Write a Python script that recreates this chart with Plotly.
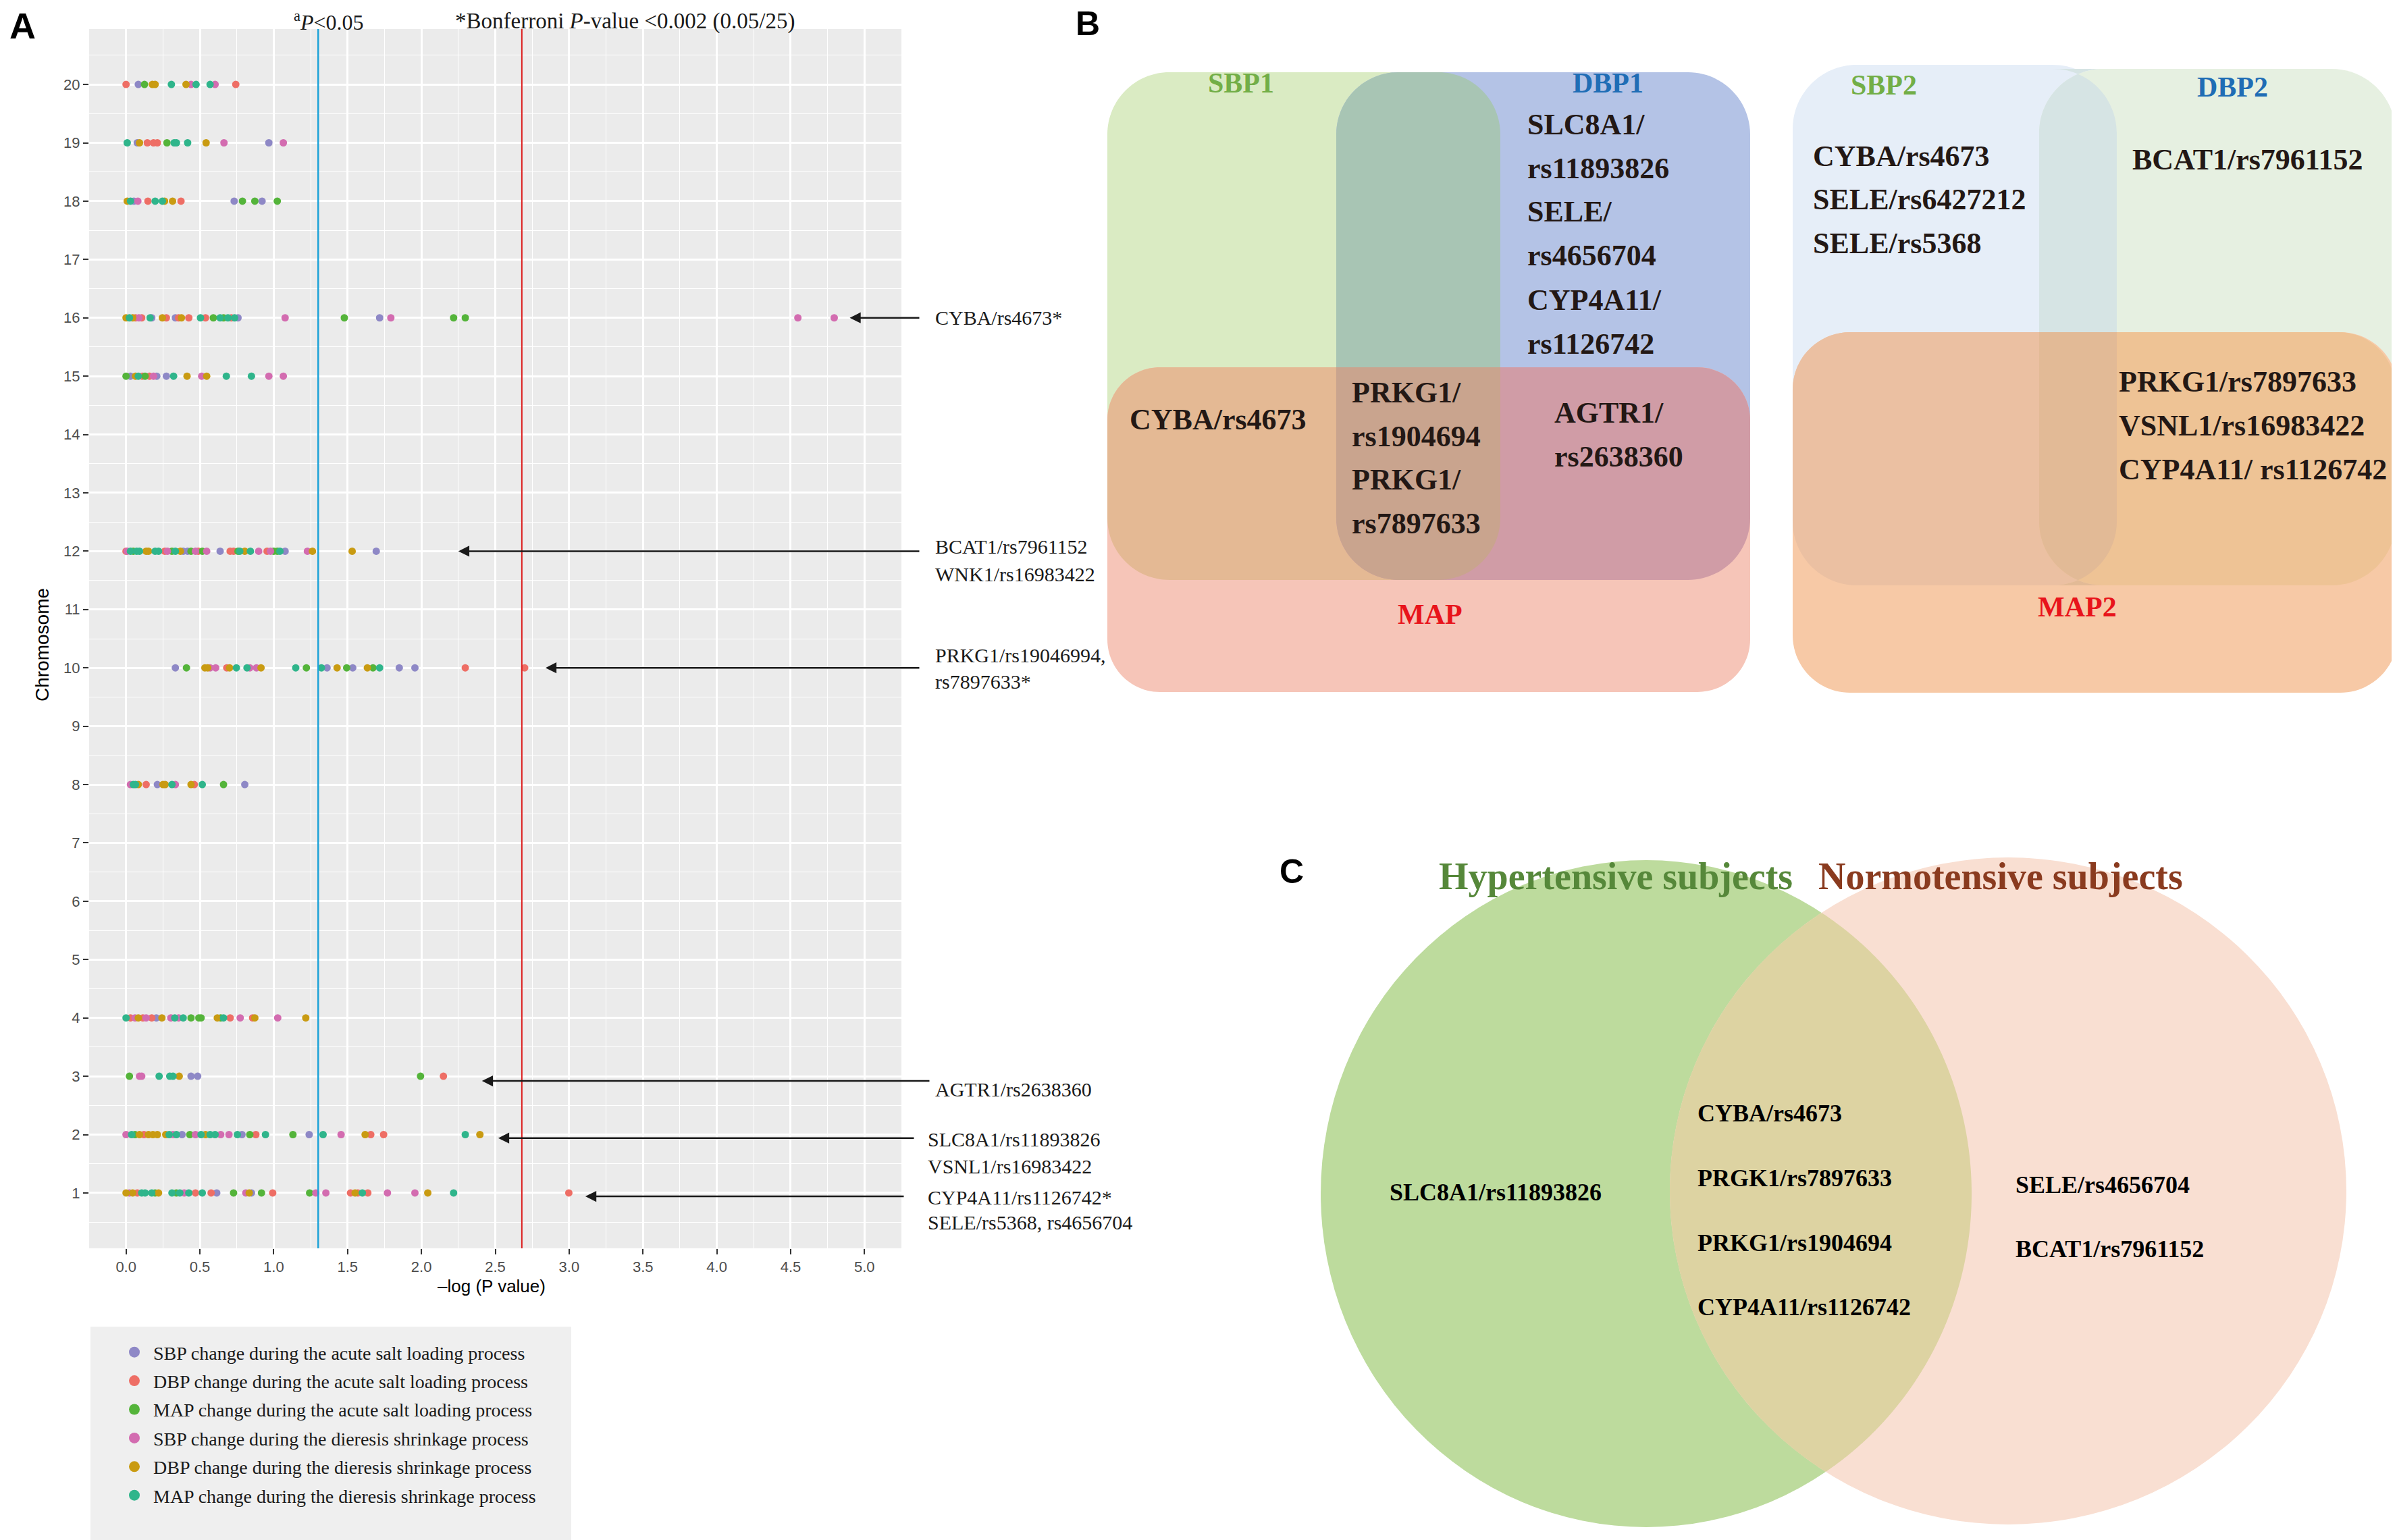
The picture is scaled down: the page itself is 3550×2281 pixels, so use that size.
import numpy as np
import plotly.graph_objects as go

W, H = 3550, 2281

# ---------------- Panel A data ----------------
series_names = [
    "SBP change during the acute salt loading process",
    "DBP change during the acute salt loading process",
    "MAP change during the acute salt loading process",
    "SBP change during the dieresis shrinkage process",
    "DBP change during the dieresis shrinkage process",
    "MAP change during the dieresis shrinkage process",
]
series_codes = ["P", "S", "G", "K", "Y", "T"]
series_colors = ["#8E88C6", "#EE6E65", "#54B43A", "#D36CB0", "#C99B12", "#2FB58B"]

chromosomes = [20, 19, 18, 16, 15, 12, 10, 8, 4, 3, 2, 1]

chr20_x = [0.0, 0.083, 0.125, 0.178, 0.197, 0.307, 0.406, 0.44, 0.474, 0.569, 0.603, 0.743]
chr20_s = "SPGYYTYKTTKS"
chr19_x = [0.008, 0.076, 0.091, 0.144, 0.186, 0.212, 0.277, 0.326, 0.341, 0.417, 0.542, 0.663, 0.967, 1.065]
chr19_s = "TPYSSSGTTTYKPK"
chr18_x = [0.008, 0.03, 0.053, 0.08, 0.148, 0.197, 0.246, 0.261, 0.315, 0.372, 0.732, 0.788, 0.872, 0.921, 1.024]
chr18_s = "YTPKSTTYYSPGGPG"
chr16_x = [0.0, 0.023, 0.045, 0.064, 0.087, 0.106, 0.163, 0.174, 0.246, 0.273, 0.334, 0.356, 0.375, 0.425,
           0.504, 0.538, 0.591, 0.637, 0.66, 0.690, 0.713, 0.735, 0.758, 1.077, 1.478, 1.717, 1.793, 2.218,
           2.297, 4.549, 4.795]
chr16_s = "YTYSKSTPYSPSYSTSGTGTSTPKGPKGGKK"
chr15_x = [0.0, 0.03, 0.064, 0.083, 0.11, 0.129, 0.159, 0.186, 0.208, 0.273, 0.322, 0.413, 0.512, 0.546,
           0.679, 0.849, 0.967, 1.065]
chr15_s = "GPYTSGSKPPTYKYTTKK"
chr12_x = [0.0, 0.008, 0.03, 0.049, 0.072, 0.091, 0.136, 0.152, 0.197, 0.22, 0.262, 0.28, 0.311, 0.334,
           0.368, 0.387, 0.417, 0.44, 0.47, 0.489, 0.516, 0.546, 0.637, 0.705, 0.728, 0.758, 0.77, 0.804,
           0.842, 0.898, 0.955, 0.978, 1.0, 1.024, 1.042, 1.077, 1.228, 1.262, 1.531, 1.694]
chr12_s = "SKTGTTYYTTSKGTYPPGKSGKPSSGTYTKSKGGTPKYYP"
chr10_x = [0.334, 0.409, 0.534, 0.553, 0.569, 0.607, 0.682, 0.701, 0.747, 0.819, 0.838, 0.883, 0.914,
           1.149, 1.221, 1.323, 1.361, 1.429, 1.494, 1.535, 1.634, 1.672, 1.717, 1.85, 1.956, 2.297, 2.699]
chr10_s = "PGYYKKSYTTKKYTGTPYGPYGTPPSS"
chr8_x = [0.03, 0.049, 0.064, 0.083, 0.136, 0.212, 0.25, 0.265, 0.311, 0.334, 0.44, 0.462, 0.516, 0.66, 0.804]
chr8_s = "KTTYSPYYTKYSTGP"
chr4_x = [0.0, 0.03, 0.061, 0.083, 0.114, 0.136, 0.174, 0.205, 0.243, 0.303, 0.330, 0.356, 0.387, 0.44,
          0.493, 0.508, 0.618, 0.641, 0.66, 0.705, 0.773, 0.857, 0.872, 1.027, 1.217]
chr4_s = "TSKYSKSPYKTKTGGGYGTSKSYKY"
chr3_x = [0.023, 0.091, 0.106, 0.224, 0.296, 0.318, 0.36, 0.44, 0.485, 1.994, 2.149]
chr3_s = "GKKTTTYPPGS"
chr2_x = [0.0, 0.038, 0.061, 0.091, 0.121, 0.152, 0.182, 0.212, 0.269, 0.292, 0.318, 0.341, 0.379, 0.432,
          0.47, 0.508, 0.538, 0.569, 0.603, 0.641, 0.697, 0.754, 0.785, 0.838, 0.879, 0.944, 1.13, 1.24,
          1.334, 1.456, 1.619, 1.657, 1.744, 2.297, 2.396]
chr2_s = "KTGYSYYYYTKTPGKTYTTKKTPGSTGPTKYSSTY"
chr1_x = [0.0, 0.023, 0.045, 0.076, 0.106, 0.129, 0.174, 0.197, 0.22, 0.311, 0.341, 0.364, 0.394, 0.425,
          0.47, 0.516, 0.576, 0.614, 0.728, 0.811, 0.834, 0.849, 0.917, 0.993, 1.243, 1.285, 1.353, 1.52,
          1.551, 1.569, 1.6, 1.637, 1.77, 1.956, 2.043, 2.218, 2.998]
chr1_s = "YKYSTTTGYTGTKTSTSPGKYPGSGKKSYSTSKKYTS"

chr_x = {20: chr20_x, 19: chr19_x, 18: chr18_x, 16: chr16_x, 15: chr15_x, 12: chr12_x,
         10: chr10_x, 8: chr8_x, 4: chr4_x, 3: chr3_x, 2: chr2_x, 1: chr1_x}
chr_s = {20: chr20_s, 19: chr19_s, 18: chr18_s, 16: chr16_s, 15: chr15_s, 12: chr12_s,
         10: chr10_s, 8: chr8_s, 4: chr4_s, 3: chr3_s, 2: chr2_s, 1: chr1_s}

p05_line = 1.301          # -log10(0.05)
bonferroni_line = 2.68    # -log10(0.002)

x_ticks = [0.0, 0.5, 1.0, 1.5, 2.0, 2.5, 3.0, 3.5, 4.0, 4.5, 5.0]
y_ticks = list(range(1, 21))

# arrow annotations: (label lines, head x, head y)
arrow_labels = [
    (["CYBA/rs4673*"], 4.90, 16),
    (["BCAT1/rs7961152", "WNK1/rs16983422"], 2.25, 12),
    (["PRKG1/rs19046994,", "rs7897633*"], 2.84, 10),
    (["AGTR1/rs2638360"], 2.41, 2.92),
    (["SLC8A1/rs11893826", "VSNL1/rs16983422"], 2.52, 1.94),
    (["CYP4A11/rs1126742*", "SELE/rs5368, rs4656704"], 3.11, 0.94),
]
arrow_tail_px = [1355, 1355, 1355, 1370, 1347, 1332]
arrow_text_px = [(1383, [468]), (1383, [807, 848]), (1383, [968, 1007]),
                 (1383, [1611]), (1372, [1685, 1725]), (1372, [1771, 1808])]

# ---------------- Helpers ----------------
def PX(x):
    return x / W


def PY(y):
    return 1 - y / H


def pt(x, y):
    return f"{x / W:.5f},{1 - y / H:.5f}"


K = 0.5523


def rrect(x0, y0, x1, y1, r):
    tl, tr, br, bl = r
    s = [f"M {pt(x0 + tl, y0)}", f"L {pt(x1 - tr, y0)}"]
    if tr:
        s.append(f"C {pt(x1 - tr + K * tr, y0)} {pt(x1, y0 + tr - K * tr)} {pt(x1, y0 + tr)}")
    s.append(f"L {pt(x1, y1 - br)}")
    if br:
        s.append(f"C {pt(x1, y1 - br + K * br)} {pt(x1 - br + K * br, y1)} {pt(x1 - br, y1)}")
    s.append(f"L {pt(x0 + bl, y1)}")
    if bl:
        s.append(f"C {pt(x0 + bl - K * bl, y1)} {pt(x0, y1 - bl + K * bl)} {pt(x0, y1 - bl)}")
    s.append(f"L {pt(x0, y0 + tl)}")
    if tl:
        s.append(f"C {pt(x0, y0 + tl - K * tl)} {pt(x0 + tl - K * tl, y0)} {pt(x0 + tl, y0)}")
    s.append("Z")
    return " ".join(s)


shapes = []


def add_path(path, color):
    shapes.append(dict(type="path", path=path, xref="paper", yref="paper",
                       fillcolor=color, line=dict(width=0), layer="below"))


annotations = []


def txt(x, y, text, size, color="#231815", family="Liberation Serif", xanchor="left",
        yanchor="middle", angle=0):
    dx = -8 if xanchor == "left" else -5
    dy = -0.18 * size if angle == 0 else 0
    annotations.append(dict(x=PX(x + dx), y=PY(y + dy), xref="paper", yref="paper", text=text,
                            showarrow=False, xanchor=xanchor, yanchor=yanchor, textangle=angle,
                            font=dict(family=family, size=size, color=color)))


# ---------------- Figure ----------------
fig = go.Figure()

for i, code in enumerate(series_codes):
    xs, ys = [], []
    for c in chromosomes:
        for xv, sc in zip(chr_x[c], chr_s[c]):
            if sc == code:
                xs.append(xv)
                ys.append(c)
    fig.add_trace(go.Scatter(x=xs, y=ys, mode="markers", showlegend=False,
                             marker=dict(size=11, color=series_colors[i], line=dict(width=0)),
                             name=series_names[i], legendgroup=f"g{i}"))
for i in range(6):
    fig.add_trace(go.Scatter(x=[None], y=[None], mode="markers", name=series_names[i],
                             legendgroup=f"g{i}", showlegend=True,
                             marker=dict(size=16, color=series_colors[i])))

# threshold lines
shapes.append(dict(type="line", xref="x", yref="y domain", x0=p05_line, x1=p05_line, y0=0, y1=1,
                   line=dict(color="#1FA3D8", width=2.5), layer="above"))
shapes.append(dict(type="line", xref="x", yref="y domain", x0=bonferroni_line, x1=bonferroni_line,
                   y0=0, y1=1, line=dict(color="#DC1E1E", width=2), layer="above"))

# arrows + labels
for (lines, hx, hy), tail, (tx, tys) in zip(arrow_labels, arrow_tail_px, arrow_text_px):
    head_px = 124 + (hx + 0.25) / 5.5 * 1203
    annotations.append(dict(x=hx, y=hy, xref="x", yref="y", ax=tail - head_px, ay=0,
                            axref="pixel", ayref="pixel", showarrow=True, arrowhead=2,
                            arrowsize=1.3, arrowwidth=2.5, arrowcolor="#1A1A1A", text="",
                            standoff=0, startstandoff=0))
    for ln, ty in zip(lines, tys):
        txt(tx, ty, ln, 30, color="#1A1A1A")

# Panel A titles
txt(484, 29, "<sup>a</sup><i>P</i>&lt;0.05", 32, color="#1A1A1A", xanchor="center")
txt(922, 29, "*Bonferroni <i>P</i>-value &lt;0.002 (0.05/25)", 33, color="#1A1A1A", xanchor="center")
txt(60, 947, "Chromosome", 28, color="#000000", family="Liberation Sans", xanchor="center", angle=-90)
txt(725, 1902, "\u2013log (P value)", 26, color="#000000", family="Liberation Sans", xanchor="center")

# legend background
shapes.append(dict(type="rect", xref="paper", yref="paper", x0=PX(126), x1=PX(838), y0=PY(2276),
                   y1=PY(1957), fillcolor="#EFEFEF", line=dict(width=0), layer="below"))

# panel letters
txt(30, 40, "<b>A</b>", 54, color="#000000", family="Liberation Sans", xanchor="center")
txt(1608, 36, "<b>B</b>", 50, color="#000000", family="Liberation Sans", xanchor="center")
txt(1910, 1292, "<b>C</b>", 50, color="#000000", family="Liberation Sans", xanchor="center")

# ---------------- Panel B (left) ----------------
R1, RM = 92, 78
add_path(rrect(1632, 99, 2214, 851, (R1, R1, R1, R1)), "#DAEBC3")     # SBP1
add_path(rrect(1971, 99, 2584, 851, (R1, R1, R1, R1)), "#B4C3E6")     # DBP1
add_path(rrect(1971, 99, 2214, 851, (R1, R1, R1, R1)), "#A8C5B4")     # SBP1 & DBP1
add_path(rrect(1632, 536, 2584, 1017, (RM, RM, RM, RM)), "#F6C5B8")   # MAP
add_path(rrect(1632, 536, 2214, 851, (RM, 0, R1, R1)), "#E4B994")     # SBP1 & MAP
add_path(rrect(1971, 536, 2584, 851, (0, RM, R1, R1)), "#D09CA6")     # DBP1 & MAP
add_path(rrect(1971, 536, 2214, 851, (0, 0, R1, R1)), "#C9A48E")      # all

BS = 44
txt(1835, 123, "<b>SBP1</b>", 42, color="#72AE47", xanchor="center")
txt(2378, 123, "<b>DBP1</b>", 42, color="#1F6DB5", xanchor="center")
for ln, y in zip(["SLC8A1/", "rs11893826", "SELE/", "rs4656704", "CYP4A11/", "rs1126742"],
                 [184, 249, 313, 378, 444, 509]):
    txt(2260, y, f"<b>{ln}</b>", BS)
txt(1671, 621, "<b>CYBA/rs4673</b>", BS)
for ln, y in zip(["PRKG1/", "rs1904694", "PRKG1/", "rs7897633"], [581, 646, 710, 775]):
    txt(2000, y, f"<b>{ln}</b>", BS)
for ln, y in zip(["AGTR1/", "rs2638360"], [611, 676]):
    txt(2300, y, f"<b>{ln}</b>", BS)
txt(2115, 910, "<b>MAP</b>", 42, color="#E8141B", xanchor="center")

# ---------------- Panel B (right) ----------------
R2, RM2 = 95, 85
add_path(rrect(2647, 88, 3127, 859, (R2, R2, R2, R2)), "#E6EEF8")     # SBP2
add_path(rrect(3012, 94, 3540, 859, (R2, R2, R2, R2)), "#E6F0E1")     # DBP2
add_path(rrect(3012, 94, 3127, 859, (R2, R2, R2, R2)), "#D6E4E4")     # SBP2 & DBP2
add_path(rrect(2647, 484, 3543, 1018, (RM2, RM2, RM2, RM2)), "#F7C9A6")  # MAP2
add_path(rrect(2647, 484, 3127, 859, (RM2, 0, R2, R2)), "#EBC0A2")
add_path(rrect(3012, 484, 3540, 859, (0, RM2, R2, R2)), "#EEC395")
add_path(rrect(3012, 484, 3127, 859, (0, 0, R2, R2)), "#E2BA96")

txt(2787, 126, "<b>SBP2</b>", 42, color="#72AE47", xanchor="center")
txt(3303, 129, "<b>DBP2</b>", 42, color="#1F6DB5", xanchor="center")
for ln, y in zip(["CYBA/rs4673", "SELE/rs6427212", "SELE/rs5368"], [231, 295, 360]):
    txt(2683, y, f"<b>{ln}</b>", BS)
txt(3156, 236, "<b>BCAT1/rs7961152</b>", BS)
for ln, y in zip(["PRKG1/rs7897633", "VSNL1/rs16983422", "CYP4A11/ rs1126742"], [565, 630, 695]):
    txt(3136, y, f"<b>{ln}</b>", BS)
txt(3073, 899, "<b>MAP2</b>", 42, color="#E8141B", xanchor="center")

# ---------------- Panel C ----------------
ga = (2430, 1760, 482, 494)   # green ellipse cx, cy, rx, ry (px)
pa = (2966, 1756, 501, 494)   # pink ellipse
for (cx, cy, rx, ry), col in [(ga, "#BDDB9D"), (pa, "#F9DFD2")]:
    shapes.append(dict(type="circle", xref="paper", yref="paper", x0=PX(cx - rx), x1=PX(cx + rx),
                       y0=PY(cy + ry), y1=PY(cy - ry), fillcolor=col, line=dict(width=0), layer="below"))


def inside(px_, py_, e):
    cx, cy, rx, ry = e
    return ((px_ - cx) / rx) ** 2 + ((py_ - cy) / ry) ** 2 <= 1


t1 = np.linspace(-np.pi / 2, np.pi / 2, 600)
ax_ = ga[0] + ga[2] * np.cos(t1)
ay_ = ga[1] + ga[3] * np.sin(t1)
m1 = inside(ax_, ay_, pa)
t2 = np.linspace(np.pi / 2, 3 * np.pi / 2, 600)
bx_ = pa[0] + pa[2] * np.cos(t2)
by_ = pa[1] + pa[3] * np.sin(t2)
m2 = inside(bx_, by_, ga)
lx = np.concatenate([ax_[m1], bx_[m2]])
ly = np.concatenate([ay_[m1], by_[m2]])
lens = "M " + " L ".join(pt(a, b) for a, b in zip(lx, ly)) + " Z"
add_path(lens, "#DDD3A2")

txt(2390, 1300, "<b>Hypertensive subjects</b>", 56, color="#56883A", xanchor="center")
txt(2960, 1300, "<b>Normotensive subjects</b>", 56, color="#8A3B1F", xanchor="center")
CS = 36
txt(2056, 1764, "<b>SLC8A1/rs11893826</b>", CS, color="#000000")
for ln, y in zip(["CYBA/rs4673", "PRGK1/rs7897633", "PRKG1/rs1904694", "CYP4A11/rs1126742"],
                 [1647, 1743, 1839, 1934]):
    txt(2512, y, f"<b>{ln}</b>", CS, color="#000000")
txt(2983, 1753, "<b>SELE/rs4656704</b>", CS, color="#000000")
txt(2983, 1848, "<b>BCAT1/rs7961152</b>", CS, color="#000000")

tickfont = dict(family="Liberation Sans Narrow, Liberation Sans, Arial", size=22, color="#4D4D4D")
fig.update_layout(
    width=W, height=H, margin=dict(l=0, r=0, t=0, b=0),
    paper_bgcolor="white", plot_bgcolor="#EBEBEB",
    xaxis=dict(domain=[124 / W, 1327 / W], range=[-0.25, 5.25], tickmode="array", tickvals=x_ticks,
               ticktext=[f"{v:.1f}" for v in x_ticks], showgrid=True, gridcolor="white", gridwidth=3,
               zeroline=False, ticks="outside", ticklen=8, tickwidth=2, tickcolor="#333333",
               tickfont=tickfont, showline=False,
               minor=dict(tickmode="array", tickvals=[v + 0.25 for v in [-0.5] + x_ticks],
                          showgrid=True, gridcolor="white", gridwidth=1.4, ticks="")),
    yaxis=dict(domain=[1 - 1841 / H, 1 - 35 / H], range=[0.05, 20.95], tickmode="array",
               tickvals=y_ticks, ticktext=[str(v) for v in y_ticks], showgrid=True, gridcolor="white",
               gridwidth=3, zeroline=False, ticks="outside", ticklen=8, tickwidth=2,
               tickcolor="#333333", tickfont=tickfont, showline=False,
               minor=dict(tickmode="array", tickvals=[v + 0.5 for v in [0] + y_ticks],
                          showgrid=True, gridcolor="white", gridwidth=1.4, ticks="")),
    legend=dict(x=PX(163), y=PY(1970), xanchor="left", yanchor="top", bgcolor="rgba(0,0,0,0)",
                font=dict(family="Liberation Serif", size=28, color="#1A1A1A"),
                tracegroupgap=3, itemsizing="trace", itemwidth=46),
    shapes=shapes, annotations=annotations,
)

fig.write_html("out.html")
